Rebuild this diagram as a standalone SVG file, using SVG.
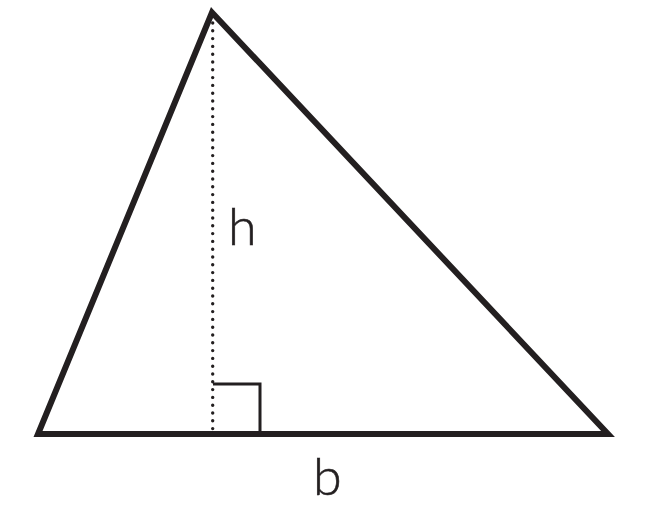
<svg xmlns="http://www.w3.org/2000/svg" width="650" height="512" viewBox="0 0 650 512">
<style>
.edge{fill:none;stroke:#231f20;stroke-width:6;stroke-linejoin:miter;stroke-miterlimit:10}
.height{fill:none;stroke:#231f20;stroke-width:3.4;stroke-linecap:round;stroke-dasharray:0 7.8}
.mark{fill:none;stroke:#231f20;stroke-width:3}
.lbl{font-family:"Lato","Liberation Sans",sans-serif;font-weight:300;font-size:52px;fill:#231f20;stroke:#231f20;stroke-width:0.6}
</style>
<rect width="650" height="512" fill="#ffffff"/>
<g id="triangle">
<polygon class="edge" points="212,12.5 608,434 38,434"/>
</g>
<g id="connectors">
<line class="height" x1="212.7" y1="23" x2="212.7" y2="430"/>
<path class="mark" d="M213,384 H260 V431"/>
</g>
<g id="label-h"><text class="lbl" x="228" y="245">h</text></g>
<g id="label-b"><text class="lbl" x="313" y="495">b</text></g>
</svg>
